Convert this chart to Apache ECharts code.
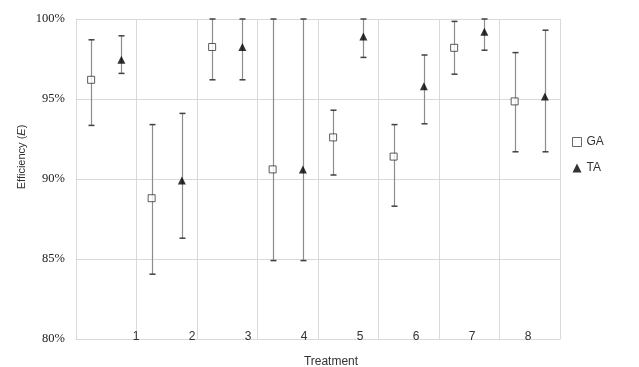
<!DOCTYPE html>
<html>
<head>
<meta charset="utf-8">
<script src="https://cdn.jsdelivr.net/npm/echarts@6/dist/echarts.min.js"></script>
<style>html,body{margin:0;padding:0;background:#fff}#c{width:639px;height:367px}</style>
</head>
<body>
<div id="c"></div>
<script>
var categories = ['1','2','3','4','5','6','7','8'];
var gaMean = [96.2, 88.8, 98.25, 90.6, 92.6, 91.4, 98.2, 94.85];
var gaLow  = [93.35, 84.05, 96.2, 84.9, 90.25, 88.3, 96.55, 91.7];
var gaHigh = [98.7, 93.4, 100, 100, 94.3, 93.4, 99.85, 97.9];
var taMean = [97.45, 89.9, 98.25, 90.6, 98.9, 95.8, 99.2, 95.15];
var taLow  = [96.6, 86.3, 96.2, 84.9, 97.6, 93.45, 98.05, 91.7];
var taHigh = [98.95, 94.1, 100, 100, 100, 97.75, 100, 99.3];
var yTicks = [80, 85, 90, 95, 100];

var gaPts = [], taPts = [], bars = [];
for (var i = 0; i < categories.length; i++) {
  gaPts.push([2*i+0.5, gaMean[i]]);
  taPts.push([2*i+1.5, taMean[i]]);
  bars.push([2*i+0.5, gaLow[i], gaHigh[i]]);
  bars.push([2*i+1.5, taLow[i], taHigh[i]]);
}

var chart = echarts.init(document.getElementById('c'));
chart.setOption({
  animation: false,
  grid: [
    {left: 76, right: 79, top: 19, bottom: 28},
    {left: 108, right: 83, top: 300, bottom: 36}
  ],
  xAxis: [
    {type: 'value', gridIndex: 0, min: 0, max: 16, interval: 2,
     axisLine: {show: true, lineStyle: {color: '#d9d9d9', width: 1}},
     axisTick: {show: false}, axisLabel: {show: false},
     splitLine: {show: true, lineStyle: {color: '#d9d9d9', width: 1}}},
    {type: 'category', gridIndex: 1, data: categories, position: 'bottom',
     axisLine: {show: false}, axisTick: {show: false},
     axisLabel: {margin: 0, fontFamily: 'Liberation Sans', fontSize: 12, color: '#333'},
     splitLine: {show: false}}
  ],
  yAxis: [
    {type: 'value', gridIndex: 0, min: yTicks[0], max: yTicks[yTicks.length-1], interval: 5,
     axisLine: {show: true, lineStyle: {color: '#d9d9d9'}},
     axisTick: {show: false},
     axisLabel: {formatter: function(v){return v + '%';}, margin: 11,
       fontFamily: 'Liberation Serif', fontSize: 12.5, color: '#222'},
     splitLine: {show: true, lineStyle: {color: '#d9d9d9', width: 1}}},
    {type: 'value', gridIndex: 1, show: false}
  ],
  legend: {
    orient: 'vertical', left: 567, top: 131, itemGap: 14,
    itemWidth: 9, itemHeight: 9,
    textStyle: {fontFamily: 'Liberation Sans', fontSize: 12, color: '#333'},
    data: [
      {name: 'GA', itemStyle: {color: '#fff', borderColor: '#444', borderWidth: 1}},
      {name: 'TA', itemStyle: {color: '#000', borderWidth: 0}}
    ]
  },
  graphic: [
    {type: 'text', x: 22, y: 157, rotation: Math.PI/2,
     style: {text: '{a|Efficiency (}{b|E}{a|)}', textAlign: 'center', textVerticalAlign: 'middle',
       rich: {a: {fontFamily: 'Liberation Sans', fontSize: 11, fill: '#333'},
              b: {fontFamily: 'Liberation Sans', fontSize: 11, fontStyle: 'italic', fill: '#333'}}}},
    {type: 'text', x: 331, y: 362,
     style: {text: 'Treatment', textAlign: 'center', textVerticalAlign: 'middle',
       fontFamily: 'Liberation Sans', fontSize: 12, fill: '#333'}}
  ],
  series: [
    {type: 'custom', xAxisIndex: 0, yAxisIndex: 0, data: bars, z: 2,
     renderItem: function(params, api) {
       var top = api.coord([api.value(0), api.value(2)]);
       var bot = api.coord([api.value(0), api.value(1)]);
       var x = Math.round(top[0]) + 0.5;
       return {type: 'group', children: [
         {type: 'line', shape: {x1: x, y1: top[1], x2: x, y2: bot[1]},
          style: {stroke: '#8c8c8c', lineWidth: 1.2}},
         {type: 'line', shape: {x1: x-3, y1: top[1], x2: x+3, y2: top[1]},
          style: {stroke: '#404040', lineWidth: 1.5}},
         {type: 'line', shape: {x1: x-3, y1: bot[1], x2: x+3, y2: bot[1]},
          style: {stroke: '#404040', lineWidth: 1.5}}
       ]};
     }},
    {name: 'GA', type: 'scatter', xAxisIndex: 0, yAxisIndex: 0, data: gaPts, z: 3,
     symbol: 'rect', symbolSize: 7,
     itemStyle: {color: '#fff', borderColor: '#333', borderWidth: 1}},
    {name: 'TA', type: 'scatter', xAxisIndex: 0, yAxisIndex: 0, data: taPts, z: 3,
     symbol: 'triangle', symbolSize: 8,
     itemStyle: {color: '#000'}}
  ]
});
</script>
</body>
</html>
